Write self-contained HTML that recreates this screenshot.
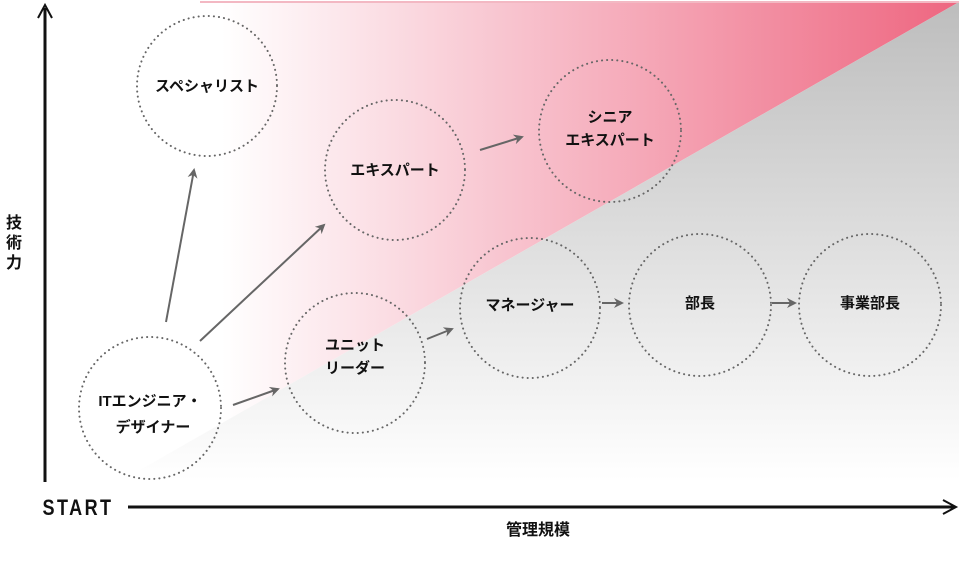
<!DOCTYPE html>
<html><head><meta charset="utf-8"><style>
body{margin:0;background:#fff}
svg text{font-family:"Liberation Sans","Noto Sans CJK JP",sans-serif;font-weight:bold;font-size:15px;fill:#111;text-anchor:middle}
</style></head><body>
<svg width="961" height="559" viewBox="0 0 961 559" xmlns="http://www.w3.org/2000/svg">
<defs>
<linearGradient id="pk" x1="140" y1="0" x2="959" y2="0" gradientUnits="userSpaceOnUse">
<stop offset="0" stop-color="#fff" stop-opacity="0"/>
<stop offset="0.1" stop-color="#fff"/>
<stop offset="0.45" stop-color="#f8c4cf"/>
<stop offset="1" stop-color="#ee6680"/>
</linearGradient>
<linearGradient id="gy" x1="0" y1="2" x2="0" y2="480" gradientUnits="userSpaceOnUse">
<stop offset="0" stop-color="#bdbdbd"/>
<stop offset="1" stop-color="#fff"/>
</linearGradient>
<marker id="ar" markerWidth="10" markerHeight="10" refX="8" refY="5" orient="auto" markerUnits="userSpaceOnUse">
<path d="M0,0 L10,5 L0,10 L3,5 Z" fill="#666"/>
</marker>
</defs>
<polygon points="140,2 959,2 140,470" fill="url(#pk)"/>
<polygon points="959,2 959,490 140,490 140,470" fill="url(#gy)"/>
<line x1="200" y1="2" x2="959" y2="2" stroke="#f3b8c3" stroke-width="2"/>
<line x1="45" y1="8" x2="45" y2="482" stroke="#111" stroke-width="3"/>
<path d="M38,18 L45,5 L52,18" fill="none" stroke="#111" stroke-width="2"/>
<line x1="128" y1="507" x2="955" y2="507" stroke="#111" stroke-width="3"/>
<path d="M943,500 L956,507 L943,514" fill="none" stroke="#111" stroke-width="2"/>
<text x="0" y="0" transform="translate(78,515) scale(0.82,1)" style="font-size:22px;letter-spacing:3px">START</text>
<text x="538" y="535" style="font-size:16px">管理規模</text>
<text x="14" y="228" style="font-size:16px">技</text>
<text x="14" y="248" style="font-size:16px">術</text>
<text x="14" y="268" style="font-size:16px">力</text>
<g fill="none" stroke="#666" stroke-width="2" stroke-dasharray="0.1 5" stroke-linecap="round">
<circle cx="207" cy="86" r="70"/>
<circle cx="395" cy="170" r="70"/>
<circle cx="610" cy="131" r="71"/>
<circle cx="150" cy="408" r="71"/>
<circle cx="355" cy="363" r="70"/>
<circle cx="530" cy="308" r="70"/>
<circle cx="700" cy="305" r="71"/>
<circle cx="870" cy="305" r="71"/>
</g>
<g stroke="#666" stroke-width="2" marker-end="url(#ar)">
<line x1="166" y1="322" x2="194" y2="170"/>
<line x1="200" y1="341" x2="324" y2="225"/>
<line x1="233" y1="405" x2="278" y2="389"/>
<line x1="427" y1="339" x2="452" y2="329"/>
<line x1="480" y1="150" x2="522" y2="137"/>
<line x1="602" y1="303" x2="622" y2="303"/>
<line x1="772" y1="303" x2="795" y2="303"/>
</g>
<text x="207" y="91">スペシャリスト</text>
<text x="395" y="175">エキスパート</text>
<text x="610" y="122">シニア</text>
<text x="610" y="145">エキスパート</text>
<text x="150" y="406">ITエンジニア・</text>
<text x="153" y="432">デザイナー</text>
<text x="355" y="350">ユニット</text>
<text x="355" y="373">リーダー</text>
<text x="530" y="310">マネージャー</text>
<text x="700" y="308">部長</text>
<text x="870" y="308">事業部長</text>
</svg>
</body></html>
